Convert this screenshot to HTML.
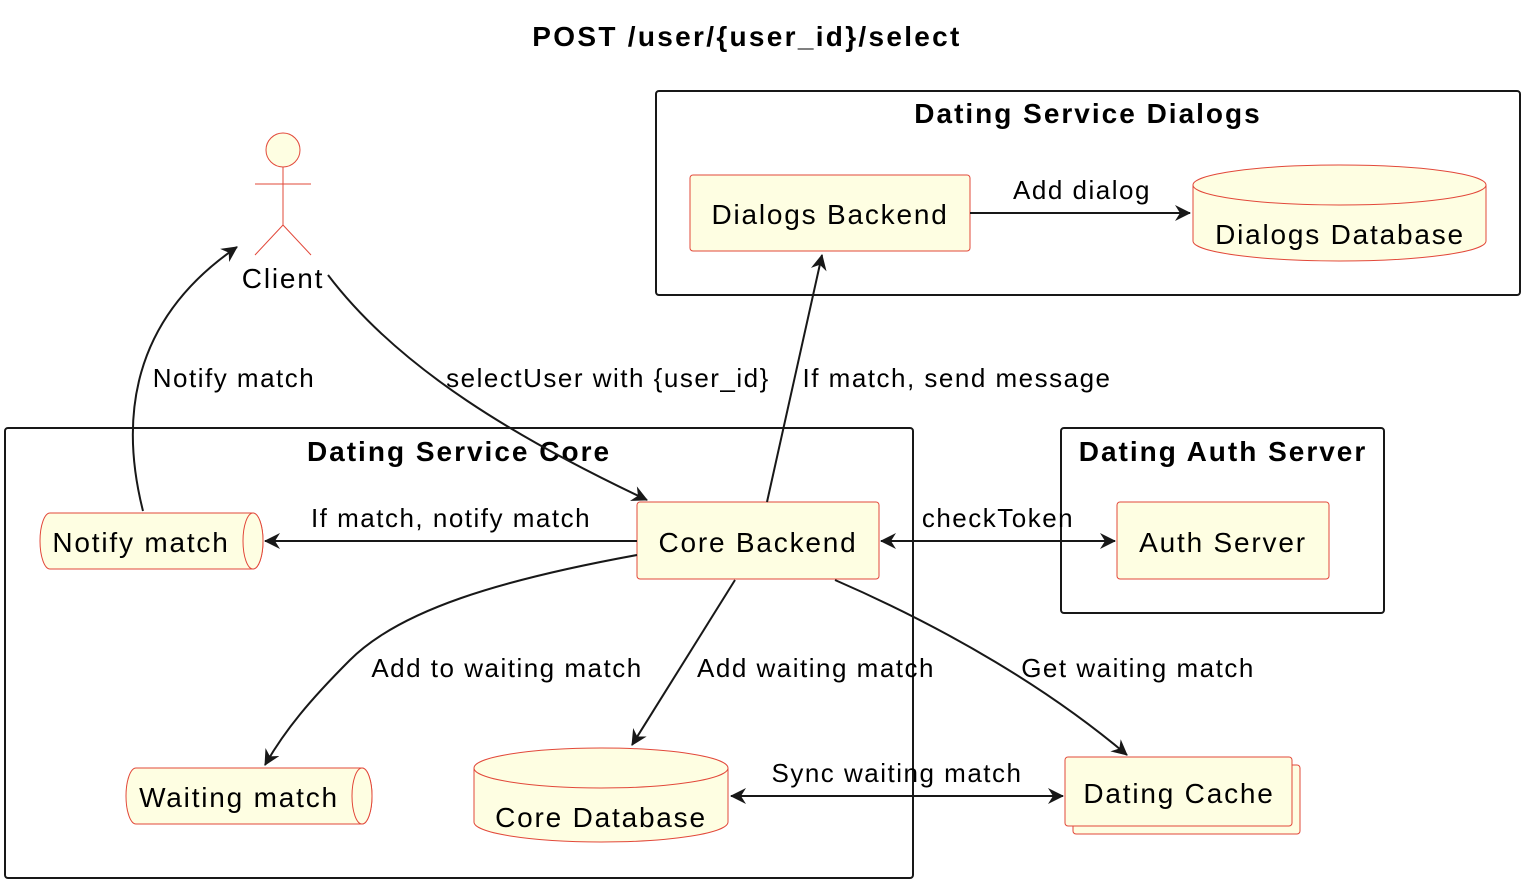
<!DOCTYPE html>
<html><head><meta charset="utf-8"><style>
html,body{margin:0;padding:0;background:#fff;}
svg{display:block;font-family:"Liberation Sans",sans-serif;}
</style></head><body>
<svg width="1530" height="886" viewBox="0 0 1530 886" xmlns="http://www.w3.org/2000/svg">
<defs>
<marker id="a" markerWidth="18" markerHeight="18" refX="15" refY="8" orient="auto-start-reverse" markerUnits="userSpaceOnUse">
<path d="M0,0 L16,8 L0,16 L5,8 Z" fill="#181818"/>
</marker>
</defs>
<g font-size="26" fill="#000" text-anchor="middle" letter-spacing="1.5">
<text x="747" y="46" font-weight="bold" font-size="28" letter-spacing="2.3">POST /user/{user_id}/select</text>

<g fill="none" stroke="#181818" stroke-width="2">
<rect x="656" y="91" width="864" height="204" rx="3"/>
<rect x="5" y="428" width="908" height="450" rx="3"/>
<rect x="1061" y="428" width="323" height="185" rx="3"/>
</g>
<g font-weight="bold" font-size="28" letter-spacing="2">
<text x="1088" y="123">Dating Service Dialogs</text>
<text x="459" y="461">Dating Service Core</text>
<text x="1223" y="461">Dating Auth Server</text>
</g>

<g fill="#FEFEE2" stroke="#E2483A" stroke-width="1">
<rect x="690" y="175" width="280" height="76" rx="3"/>
<path d="M1193,185 A146.5,20 0 0 1 1486,185 L1486,241 A146.5,20 0 0 1 1193,241 Z"/>
<path d="M1193,185 A146.5,20 0 0 0 1486,185" fill="none"/>
<rect x="637" y="502" width="242" height="77" rx="3"/>
<rect x="1117" y="502" width="212" height="77" rx="3"/>
<path d="M50,513 L253,513 A10,28 0 0 1 253,569 L50,569 A10,28 0 0 1 50,513 Z"/>
<ellipse cx="253" cy="541" rx="10" ry="28"/>
<path d="M136,768 L362,768 A10,28 0 0 1 362,824 L136,824 A10,28 0 0 1 136,768 Z"/>
<ellipse cx="362" cy="796" rx="10" ry="28"/>
<path d="M474,768 A127,20 0 0 1 728,768 L728,822 A127,20 0 0 1 474,822 Z"/>
<path d="M474,768 A127,20 0 0 0 728,768" fill="none"/>
<rect x="1073" y="765" width="227" height="69" rx="3"/>
<rect x="1065" y="757" width="227" height="69" rx="3"/>
<circle cx="283" cy="150" r="17"/>
</g>
<g stroke="#E2483A" stroke-width="1" fill="none">
<path d="M283,167 L283,225 M255,184 L311,184 M255,255 L283,225 L311,255"/>
</g>

<g font-size="28" letter-spacing="1.8">
<text x="830" y="224">Dialogs Backend</text>
<text x="1340" y="244">Dialogs Database</text>
<text x="758" y="552">Core Backend</text>
<text x="1223" y="552">Auth Server</text>
<text x="141" y="552">Notify match</text>
<text x="239" y="807">Waiting match</text>
<text x="601" y="827">Core Database</text>
<text x="1179" y="803">Dating Cache</text>
<text x="283" y="288">Client</text>
</g>

<g fill="none" stroke="#181818" stroke-width="2">
<path d="M970,213 L1190,213" marker-end="url(#a)"/>
<path d="M328,275 C400,370 520,440 647,500" marker-end="url(#a)"/>
<path d="M143,511 C120,420 130,320 237,247" marker-end="url(#a)"/>
<path d="M767,502 L822,255" marker-end="url(#a)"/>
<path d="M637,541 L265,541" marker-end="url(#a)"/>
<path d="M881,541 L1115,541" marker-start="url(#a)" marker-end="url(#a)"/>
<path d="M637,555 C500,580 400,610 350,660 C310,700 285,730 265,765" marker-end="url(#a)"/>
<path d="M735,580 L632,745" marker-end="url(#a)"/>
<path d="M835,580 C950,630 1050,690 1127,755" marker-end="url(#a)"/>
<path d="M731,796 L1063,796" marker-start="url(#a)" marker-end="url(#a)"/>
</g>
<text x="1082" y="199">Add dialog</text>
<text x="608" y="387">selectUser with {user_id}</text>
<text x="234" y="387">Notify match</text>
<text x="957" y="387">If match, send message</text>
<text x="451" y="527">If match, notify match</text>
<text x="998" y="527">checkToken</text>
<text x="507" y="677">Add to waiting match</text>
<text x="816" y="677">Add waiting match</text>
<text x="1138" y="677">Get waiting match</text>
<text x="897" y="782">Sync waiting match</text>
</g>
</svg>
</body></html>
